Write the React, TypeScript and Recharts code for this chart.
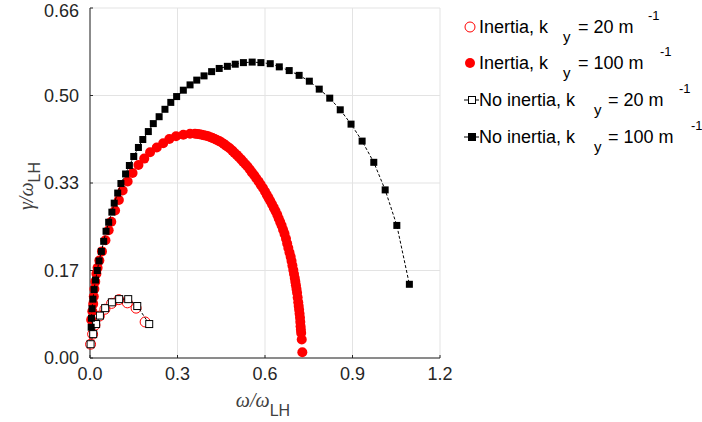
import { ScatterChart, Scatter, XAxis, YAxis, CartesianGrid, Legend } from 'recharts';

// axis ticks
const xTicks = [0, 0.3, 0.6, 0.9, 1.2];
const xTickLabels = ['0.0', '0.3', '0.6', '0.9', '1.2'];
const yTicks = [0, 0.165, 0.33, 0.495, 0.66];
const yTickLabels = ['0.00', '0.17', '0.33', '0.50', '0.66'];

// Inertia, ky = 20 m^-1
const inertia20X = [0.002, 0.009, 0.017, 0.032, 0.051, 0.074, 0.099, 0.128, 0.158, 0.189];
const inertia20Y = [0.026, 0.045, 0.062, 0.079, 0.092, 0.103, 0.11, 0.104, 0.094, 0.068];

// Inertia, ky = 100 m^-1 (dense sampling after the peak)
const inertia100X = [
  0.004, 0.008, 0.011, 0.013, 0.015, 0.018, 0.022, 0.026, 0.032, 0.041, 0.053, 0.064, 0.073, 0.086,
  0.099, 0.112, 0.129, 0.146, 0.166, 0.186, 0.206, 0.229, 0.251, 0.272, 0.295, 0.32, 0.343, 0.36,
  0.368, 0.375, 0.383, 0.39, 0.398, 0.405, 0.413, 0.42, 0.428, 0.435, 0.443, 0.45, 0.458, 0.465,
  0.473, 0.48, 0.488, 0.495, 0.503, 0.51, 0.518, 0.525, 0.533, 0.54, 0.548, 0.555, 0.563, 0.57,
  0.578, 0.585, 0.593, 0.6, 0.606, 0.612, 0.618, 0.624, 0.63, 0.636, 0.642, 0.647, 0.652, 0.657,
  0.662, 0.667, 0.672, 0.676, 0.68, 0.684, 0.688, 0.691, 0.694, 0.697, 0.6995, 0.702, 0.704, 0.706,
  0.708, 0.71, 0.712, 0.714, 0.7155, 0.717, 0.7185, 0.72, 0.721, 0.722, 0.723, 0.724, 0.726, 0.728,
];
const inertia100Y = [
  0.072, 0.088, 0.102, 0.116, 0.13, 0.144, 0.159, 0.17, 0.184, 0.201, 0.222, 0.241, 0.257, 0.278,
  0.298, 0.316, 0.333, 0.349, 0.364, 0.376, 0.388, 0.397, 0.405, 0.413, 0.418, 0.421, 0.423, 0.423,
  0.4225, 0.422, 0.421, 0.42, 0.419, 0.418, 0.4165, 0.415, 0.413, 0.411, 0.409, 0.407, 0.404, 0.401,
  0.398, 0.395, 0.391, 0.387, 0.383, 0.379, 0.3745, 0.37, 0.3655, 0.361, 0.3555, 0.35, 0.3445, 0.339,
  0.333, 0.327, 0.3205, 0.314, 0.308, 0.302, 0.296, 0.29, 0.2835, 0.277, 0.27, 0.263, 0.2565, 0.25,
  0.242, 0.234, 0.225, 0.216, 0.2075, 0.199, 0.191, 0.183, 0.1745, 0.166, 0.1585, 0.151, 0.144, 0.137,
  0.13, 0.123, 0.114, 0.105, 0.098, 0.091, 0.0835, 0.076, 0.068, 0.06, 0.0535, 0.047, 0.035, 0.011,
];

// No inertia, ky = 20 m^-1
const noInertia20X = [0.002, 0.011, 0.021, 0.034, 0.052, 0.075, 0.1, 0.131, 0.162, 0.203];
const noInertia20Y = [0.026, 0.045, 0.064, 0.08, 0.094, 0.105, 0.111, 0.111, 0.098, 0.064];

// No inertia, ky = 100 m^-1
const noInertia100X = [
  0.004, 0.005, 0.007, 0.01, 0.014, 0.019, 0.025, 0.031, 0.039, 0.047, 0.055, 0.064, 0.075, 0.083,
  0.095, 0.106, 0.122, 0.135, 0.15, 0.166, 0.181, 0.2, 0.217, 0.237, 0.257, 0.277, 0.297, 0.32,
  0.343, 0.366, 0.391, 0.417, 0.443, 0.471, 0.498, 0.526, 0.556, 0.586, 0.618, 0.649, 0.683, 0.717,
  0.752, 0.786, 0.822, 0.858, 0.895, 0.933, 0.973, 1.012, 1.052, 1.095,
];
const noInertia100Y = [
  0.058, 0.075, 0.093, 0.111, 0.129, 0.147, 0.165, 0.183, 0.201, 0.22, 0.239, 0.256, 0.275, 0.292,
  0.311, 0.329, 0.347, 0.363, 0.38, 0.397, 0.412, 0.427, 0.442, 0.455, 0.469, 0.482, 0.493, 0.505,
  0.515, 0.524, 0.532, 0.54, 0.546, 0.55, 0.554, 0.557, 0.558, 0.557, 0.555, 0.549, 0.542, 0.533,
  0.522, 0.507, 0.49, 0.468, 0.441, 0.409, 0.369, 0.317, 0.25, 0.139,
];

const seriesNames = ['Inertia, k', 'Inertia, k', 'No inertia, k', 'No inertia, k'];
const seriesSub = ['y', 'y', 'y', 'y'];
const seriesRest = ['= 20 m', '= 100 m', '= 20 m', '= 100 m'];
const seriesSup = ['-1', '-1', '-1', '-1'];

const toPoints = (xs: number[], ys: number[]) => xs.map((x, i) => ({ x, y: ys[i] }));

const RED = '#ff0000';
const AXIS = '#262626';
const SANS = "'Liberation Sans', Arial, Helvetica, sans-serif";

const openCircle = (p: any) => (
  <circle cx={p.cx} cy={p.cy} r={5} fill="none" stroke={RED} strokeWidth={1} />
);
const filledCircle = (p: any) => <circle cx={p.cx} cy={p.cy} r={5} fill={RED} />;
const openSquare = (p: any) => (
  <rect x={p.cx - 3.5} y={p.cy - 3.5} width={7} height={7} fill="#fff" stroke="#000" strokeWidth={1} />
);
const filledSquare = (p: any) => (
  <rect x={p.cx - 3.5} y={p.cy - 3.5} width={7} height={7} fill="#000" />
);

const legendMarker = (i: number) => {
  if (i === 0) return <circle cx={30} cy={10} r={5} fill="none" stroke={RED} />;
  if (i === 1) return <circle cx={30} cy={10} r={5} fill={RED} />;
  return (
    <g>
      <line x1={24} x2={39} y1={10} y2={10} stroke="#000" strokeWidth={1} />
      <rect x={28.5} y={6.5} width={7} height={7} fill={i === 2 ? '#fff' : '#000'} stroke="#000" />
    </g>
  );
};

// x offsets of text pieces inside the legend box
const rowTop = [27, 63, 100, 137];
const subLeft = [123, 123, 154, 154];
const restLeft = [138, 138, 168, 168];
const supLeft = [208, 220, 239, 251];

const renderLegend = () => (
  <div style={{ position: 'relative', width: 262, height: 160, fontFamily: SANS, color: '#000' }}>
    {seriesNames.map((name, i) => (
      <div key={i} style={{ position: 'absolute', left: 0, top: rowTop[i] - 10, width: 262, height: 20 }}>
        <svg width={42} height={20} style={{ position: 'absolute', left: 0, top: 0 }}>
          {legendMarker(i)}
        </svg>
        <span style={{ position: 'absolute', left: 39, top: -1, fontSize: 18, lineHeight: '22px', whiteSpace: 'nowrap' }}>
          {name}
        </span>
        <span style={{ position: 'absolute', left: subLeft[i], top: 10, fontSize: 15, lineHeight: '20px' }}>
          {seriesSub[i]}
        </span>
        <span style={{ position: 'absolute', left: restLeft[i], top: -1, fontSize: 18, lineHeight: '22px', whiteSpace: 'nowrap' }}>
          {seriesRest[i]}
        </span>
        <span style={{ position: 'absolute', left: supLeft[i], top: -10, fontSize: 13, lineHeight: '18px' }}>
          {seriesSup[i]}
        </span>
      </div>
    ))}
  </div>
);

const YLabel = () => (
  <text x={33} y={186} transform="rotate(-90, 33, 186)" textAnchor="middle" fill="#404040">
    <tspan fontFamily="'Liberation Serif', 'DejaVu Serif', serif" fontStyle="italic" fontSize={20}>
      γ/ω
    </tspan>
    <tspan fontFamily={SANS} fontSize={16} dy={7}>
      LH
    </tspan>
  </text>
);

const XLabel = () => (
  <text x={263} y={407} textAnchor="middle" fill="#404040">
    <tspan fontFamily="'Liberation Serif', 'DejaVu Serif', serif" fontStyle="italic" fontSize={20}>
      ω/ω
    </tspan>
    <tspan fontFamily={SANS} fontSize={16} dy={9}>
      LH
    </tspan>
  </text>
);

export default function App() {
  return (
    <div style={{ position: 'absolute', left: 0, top: 0, width: 702, height: 422, background: '#fff' }}>
      <ScatterChart width={702} height={422} margin={{ top: 8, right: 262, bottom: 14, left: 0 }}>
        <CartesianGrid stroke="#e3e3e3" strokeWidth={1} />
        <XAxis
          type="number"
          dataKey="x"
          domain={[0, 1.2]}
          ticks={xTicks}
          tickFormatter={(v: number) => xTickLabels[xTicks.indexOf(v)] ?? String(v)}
          height={50}
          tick={{ fill: AXIS, fontSize: 18, fontFamily: SANS }}
          tickSize={-3}
          tickMargin={12}
          tickLine={{ stroke: AXIS }}
          axisLine={{ stroke: AXIS }}
          label={<XLabel />}
        />
        <YAxis
          type="number"
          dataKey="y"
          domain={[0, 0.66]}
          ticks={yTicks}
          tickFormatter={(v: number) => yTickLabels[yTicks.indexOf(v)] ?? String(v)}
          width={90}
          tick={{ fill: AXIS, fontSize: 18, fontFamily: SANS }}
          tickSize={-3}
          tickMargin={14}
          tickLine={{ stroke: AXIS }}
          axisLine={{ stroke: AXIS }}
          label={<YLabel />}
        />
        <Legend
          layout="vertical"
          align="center"
          verticalAlign="middle"
          content={renderLegend}
          wrapperStyle={{ left: 440, top: 0, width: 262, height: 160 }}
        />
        <Scatter
          name="Inertia, ky = 20 m-1"
          data={toPoints(inertia20X, inertia20Y)}
          shape={openCircle}
          isAnimationActive={false}
        />
        <Scatter
          name="Inertia, ky = 100 m-1"
          data={toPoints(inertia100X, inertia100Y)}
          shape={filledCircle}
          isAnimationActive={false}
        />
        <Scatter
          name="No inertia, ky = 20 m-1"
          data={toPoints(noInertia20X, noInertia20Y)}
          shape={openSquare}
          line={{ stroke: '#000', strokeWidth: 1, strokeDasharray: '3 2' }}
          isAnimationActive={false}
        />
        <Scatter
          name="No inertia, ky = 100 m-1"
          data={toPoints(noInertia100X, noInertia100Y)}
          shape={filledSquare}
          line={{ stroke: '#000', strokeWidth: 1, strokeDasharray: '3 2' }}
          isAnimationActive={false}
        />
      </ScatterChart>
    </div>
  );
}
